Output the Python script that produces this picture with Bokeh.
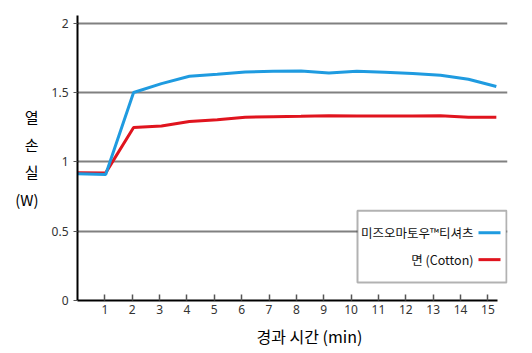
from bokeh.plotting import figure
from bokeh.models import Range1d, LinearAxis, FixedTicker, Label, BoxAnnotation, Title
from bokeh.embed import file_html
from bokeh.resources import INLINE

# ---- data ----
minutes = list(range(16))
mizuo = [0.914, 0.908, 1.50, 1.564, 1.617, 1.631, 1.648, 1.653, 1.655,
         1.641, 1.653, 1.646, 1.636, 1.624, 1.595, 1.543]
cotton = [0.922, 0.920, 1.248, 1.258, 1.291, 1.303, 1.322, 1.325, 1.328,
          1.332, 1.330, 1.330, 1.330, 1.332, 1.322, 1.322]
x_ticks = list(range(1, 16))
y_ticks = [0, 0.5, 1, 1.5, 2]
series_names = ["미즈오마토우™티셔츠", "면 (Cotton)"]
series_colors = ["#1f9be0", "#e0141e"]
y_title = "열\n손\n실\n(W)"
x_title = "경과 시간 (min)"

W, H = 532, 353
L, R, T, B = 77, 507, 15, 301

p = figure(width=W, height=H, output_backend="svg", toolbar_location=None,
           x_range=Range1d(-0.01, 15.40), y_range=Range1d(0, 2.055),
           x_axis_location=None, y_axis_location="left",
           min_border_left=L, min_border_right=W - R,
           min_border_top=T, min_border_bottom=H - B)
p.outline_line_color = None
p.background_fill_color = "white"
p.border_fill_color = "white"

# pixel helper ranges for non-data decorations
p.extra_x_ranges = {"px": Range1d(L, R), "ticks": Range1d(0, (R - L) / 27.36)}
p.extra_y_ranges = {"px": Range1d(B, T)}

p.xgrid.visible = False
p.ygrid.ticker = FixedTicker(ticks=y_ticks[1:])
p.ygrid.grid_line_color = "#808080"
p.ygrid.grid_line_width = 2

# y axis
ya = p.yaxis[0]
ya.ticker = FixedTicker(ticks=y_ticks)
ya.axis_line_color = "black"
ya.axis_line_width = 2
ya.major_tick_in = 0
ya.major_tick_out = 4
ya.major_tick_line_color = "#555555"
ya.minor_tick_line_color = None
ya.major_label_standoff = 5
ya.major_label_text_font = "Noto Sans"
ya.major_label_text_font_size = "12px"
ya.major_label_text_color = "#333333"
ya.axis_label = y_title
ya.axis_label_orientation = "horizontal"
ya.axis_label_text_line_height = 1.32
ya.axis_label_text_font = "Noto Sans CJK KR"
ya.axis_label_text_font_size = "15px"
ya.axis_label_text_font_style = "normal"
ya.axis_label_text_color = "black"
ya.axis_label_standoff = 10

# x axis on tick range
xa = LinearAxis(x_range_name="ticks", ticker=FixedTicker(ticks=x_ticks))
xa.bounds = (0, 15.35)
xa.axis_line_color = "black"
xa.axis_line_width = 2
xa.major_tick_in = 6
xa.major_tick_out = 0
xa.major_tick_line_color = "#555555"
xa.major_tick_line_width = 1.5
xa.minor_tick_line_color = None
xa.major_label_standoff = 4
xa.major_label_text_font = "Noto Sans"
xa.major_label_text_font_size = "12px"
xa.major_label_text_color = "#333333"
p.add_layout(xa, "below")

# x axis title
p.add_layout(Title(text=x_title, align="left", offset=179,
                   text_font="Noto Sans CJK KR", text_font_size="16px",
                   text_font_style="normal", text_color="black", standoff=11),
             "below")

# data lines
p.line(minutes, cotton, line_color=series_colors[1], line_width=3)
p.line(minutes, mizuo, line_color=series_colors[0], line_width=3)

# legend box (drawn manually: label then line sample)
box = BoxAnnotation(left=357, right=506, top=211, bottom=283,
                    x_range_name="px", y_range_name="px",
                    fill_color="white", fill_alpha=1,
                    line_color="black", line_width=2)
p.add_layout(box)
for i, (name, col) in enumerate(zip(series_names, series_colors)):
    yy = 233 + i * 27
    r = p.segment(x0=[478], y0=[yy], x1=[500], y1=[yy], line_color=col,
                  line_width=3, x_range_name="px", y_range_name="px")
    r.level = "overlay"
    p.add_layout(Label(x=473, y=yy, text=name, x_range_name="px",
                       y_range_name="px", text_align="right",
                       text_baseline="middle",
                       text_font="Noto Sans CJK KR", text_font_size="12.5px",
                       text_color="#111111"))

open("out.html", "w").write(file_html(p, INLINE))
